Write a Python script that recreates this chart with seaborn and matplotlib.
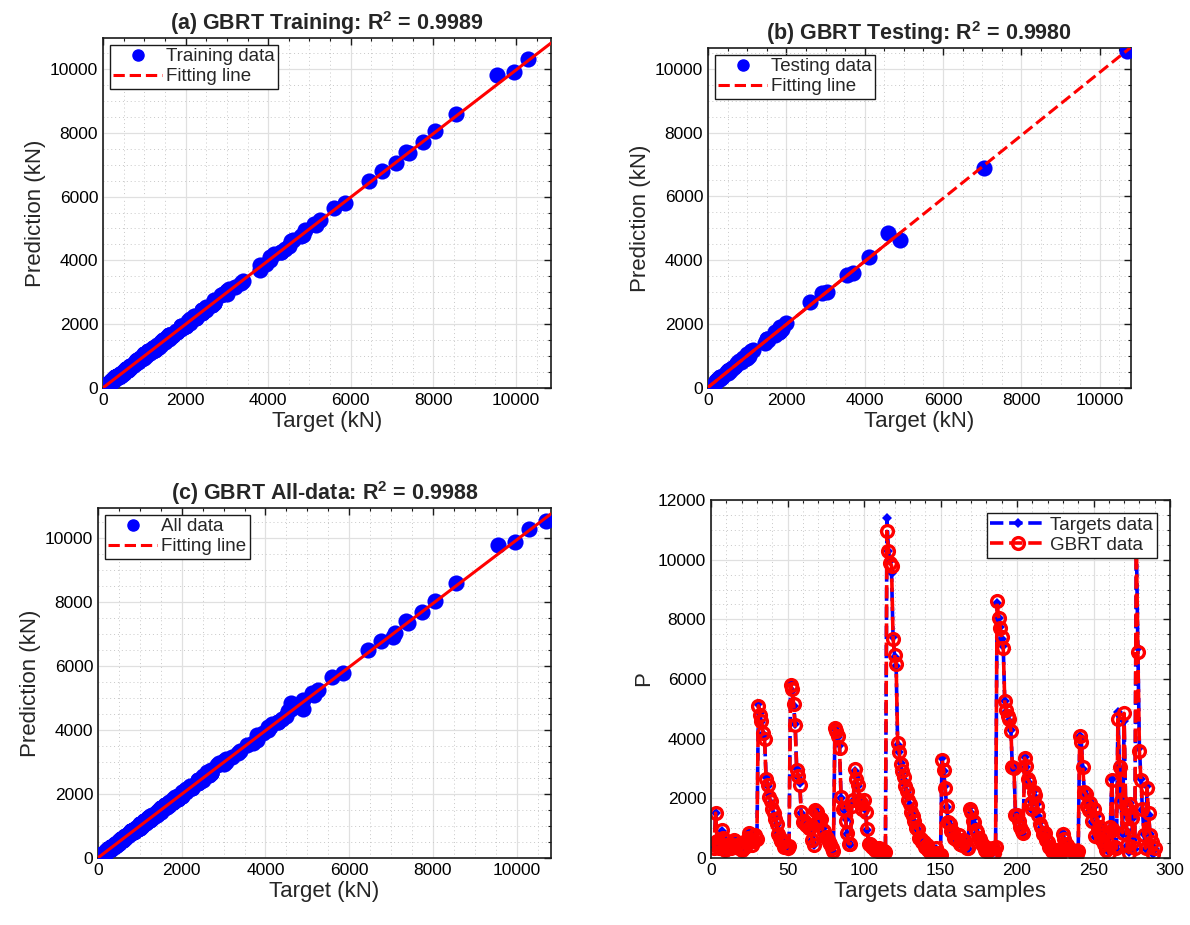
import numpy as np
import matplotlib
matplotlib.use('Agg')
import matplotlib.pyplot as plt
import seaborn as sns
from matplotlib.lines import Line2D
from matplotlib.ticker import MultipleLocator

# target values (kN) for every sample
targets = [
    450, 380, 1520, 600, 300, 450, 900, 700, 250, 400,
    350, 500, 300, 450, 650, 550, 400, 300, 350, 250,
    300, 400, 550, 700, 880, 600, 450, 530, 800, 600,
    5150, 4850, 4550, 4150, 4050, 2700, 2400, 2100, 1850, 1700,
    1450, 1330, 1100, 830, 650, 600, 500, 400, 350, 300,
    380, 5850, 5600, 5100, 4500, 3000, 2700, 2500, 1500, 1250,
    1200, 1150, 1100, 1050, 1000, 600, 450, 1650, 1500, 1300,
    1350, 1250, 1000, 880, 750, 650, 550, 450, 350, 200,
    4400, 4300, 4050, 3800, 2000, 1700, 1600, 1300, 800, 500,
    450, 1800, 1900, 2900, 2700, 2400, 2000, 1800, 1700, 1900,
    1600, 950, 500, 450, 400, 350, 300, 280, 250, 320,
    300, 250, 200, 180, 11400, 10300, 9950, 9550, 7400, 6750,
    6450, 3800, 3550, 3200, 2850, 2600, 2450, 2200, 2000, 1780,
    1500, 1450, 1200, 1050, 950, 700, 600, 550, 500, 400,
    400, 300, 200, 100, 50, 150, 300, 200, 100, 80,
    3350, 2900, 2400, 1700, 1250, 1100, 950, 830, 700, 600,
    650, 750, 500, 400, 650, 550, 350, 300, 1700, 1500,
    1300, 1150, 1000, 830, 700, 600, 500, 400, 300, 200,
    350, 250, 150, 300, 200, 350, 8550, 8050, 7750, 7350,
    7100, 5250, 4900, 4800, 4600, 4300, 3000, 3050, 1500, 1400,
    1300, 1000, 950, 800, 3400, 3050, 2700, 2500, 1900, 1600,
    2250, 2050, 1800, 1400, 1200, 1000, 850, 800, 650, 500,
    400, 300, 250, 200, 300, 250, 150, 100, 200, 830,
    600, 500, 400, 350, 250, 300, 200, 150, 100, 250,
    4100, 3950, 3000, 2250, 2100, 1800, 1550, 1900, 1200, 1700,
    700, 1400, 900, 1100, 600, 800, 450, 300, 500, 200,
    1000, 2650, 900, 400, 300, 4900, 3000, 1950, 800, 4600,
    1800, 400, 200, 1850, 1300, 600, 300, 10700, 7050, 3700,
    2650, 1600, 800, 300, 2400, 1450, 800, 500, 150, 300,
]

# GBRT predictions (kN) for the same samples
predictions = [
    480, 350, 1500, 560, 330, 420, 930, 680, 280, 380,
    380, 470, 330, 430, 620, 580, 420, 320, 330, 280,
    320, 380, 580, 680, 850, 640, 430, 560, 780, 630,
    5100, 4800, 4600, 4200, 4000, 2650, 2450, 2050, 1900, 1650,
    1500, 1300, 1150, 800, 680, 570, 520, 380, 370, 320,
    400, 5800, 5650, 5150, 4450, 2950, 2750, 2450, 1550, 1200,
    1250, 1100, 1150, 1000, 1050, 620, 430, 1600, 1550, 1250,
    1300, 1300, 950, 900, 720, 680, 520, 480, 330, 230,
    4350, 4250, 4100, 3700, 2050, 1650, 1650, 1250, 850, 480,
    480, 1750, 1950, 2980, 2650, 2450, 1950, 1850, 1650, 1950,
    1550, 980, 470, 480, 380, 370, 280, 300, 230, 340,
    280, 270, 220, 200, 10950, 10300, 9900, 9800, 7350, 6800,
    6500, 3850, 3540, 3150, 2900, 2700, 2400, 2250, 1950, 1800,
    1550, 1400, 1250, 1000, 980, 680, 630, 520, 530, 380,
    420, 280, 230, 120, 80, 130, 320, 180, 130, 100,
    3300, 2950, 2350, 1750, 1200, 1150, 900, 870, 680, 630,
    620, 780, 480, 420, 620, 580, 330, 320, 1650, 1550,
    1250, 1200, 950, 870, 680, 630, 480, 420, 280, 230,
    330, 270, 130, 320, 180, 380, 8600, 8050, 7700, 7400,
    7050, 5250, 4950, 4750, 4650, 4250, 3050, 3010, 1450, 1450,
    1250, 1050, 900, 850, 3350, 3100, 2650, 2550, 1850, 1650,
    2200, 2100, 1750, 1450, 1150, 1050, 800, 850, 620, 530,
    380, 320, 230, 220, 280, 270, 130, 120, 230, 800,
    630, 470, 430, 330, 270, 280, 220, 130, 120, 230,
    4100, 3900, 3050, 2200, 2150, 1750, 1600, 1850, 1250, 1650,
    730, 1350, 950, 1050, 630, 770, 480, 280, 530, 180,
    1050, 2600, 950, 380, 330, 4650, 3050, 1900, 850, 4850,
    1750, 430, 180, 1800, 1350, 570, 330, 10550, 6900, 3600,
    2600, 1650, 770, 330, 2350, 1500, 770, 530, 130, 330,
]

# samples held out for testing
test_idx = [
    2, 7, 12, 18, 23, 27, 38, 42, 46, 58, 63, 68, 72, 77, 84, 88,
    93, 97, 101, 106, 111, 122, 125, 131, 137, 142, 147, 153, 156,
    161, 166, 171, 176, 182, 197, 201, 208, 212, 218, 223, 229, 234,
    240, 245, 249, 254, 258, 262, 265, 269, 273, 277, 278, 279, 283, 287,
]

titles = [
    r'(a) GBRT Training: $\mathbf{R^2}$ = 0.9989',
    r'(b) GBRT Testing: $\mathbf{R^2}$ = 0.9980',
    r'(c) GBRT All-data: $\mathbf{R^2}$ = 0.9988',
]
data_labels = ['Training data', 'Testing data', 'All data']

target = np.array(targets, dtype=float)
pred = np.array(predictions, dtype=float)
sample = np.arange(1, len(target) + 1)
is_test = np.zeros(len(target), dtype=bool)
is_test[test_idx] = True

sns.set_theme(style='white')
plt.rcParams['font.family'] = ['Liberation Sans', 'DejaVu Sans']
plt.rcParams['mathtext.fontset'] = 'custom'
plt.rcParams['mathtext.rm'] = 'Liberation Sans'
plt.rcParams['mathtext.bf'] = 'Liberation Sans:bold'

INK = '#1a1a1a'
TICK_FS = 12.5
LABEL_FS = 16
TITLE_FS = 15.5
LEG_FS = 13.5


def matlab_style(ax, xmax, ymax, xmaj, xmin, ymaj, ymin):
    ax.set_xlim(0, xmax)
    ax.set_ylim(0, ymax)
    ax.xaxis.set_major_locator(MultipleLocator(xmaj))
    ax.xaxis.set_minor_locator(MultipleLocator(xmin))
    ax.yaxis.set_major_locator(MultipleLocator(ymaj))
    ax.yaxis.set_minor_locator(MultipleLocator(ymin))
    ax.grid(which='major', color='#e0e0e0', lw=0.9)
    ax.grid(which='minor', color='#c8c8c8', lw=0.7, ls=(0, (1, 3)))
    ax.set_axisbelow(True)
    ax.tick_params(which='both', direction='in', top=True, right=True,
                   labelsize=TICK_FS, colors=INK, labelcolor='black')
    ax.tick_params(which='major', length=5, width=1)
    ax.tick_params(which='minor', length=2.5, width=0.8)
    for s in ax.spines.values():
        s.set_color(INK)
        s.set_linewidth(1.2)


fig = plt.figure(figsize=(11.9, 9.25), dpi=100)
W, H = 1190, 925


def box(l, t, r, b):
    return [l / W, 1 - b / H, (r - l) / W, (b - t) / H]


ax_a = fig.add_axes(box(103, 38, 551, 388))
ax_b = fig.add_axes(box(708, 48, 1131, 388))
ax_c = fig.add_axes(box(98, 508, 551, 858))
ax_d = fig.add_axes(box(711, 500, 1170, 858))

subsets = [~is_test, is_test, np.ones(len(target), dtype=bool)]
limits = [(10850, 10970), (10800, 10650), (10820, 10950)]

for k, (ax, mask, title, lab, (xmax, ymax)) in enumerate(
        zip([ax_a, ax_b, ax_c], subsets, titles, data_labels, limits)):
    x = target[mask]
    y = pred[mask]
    slope, icpt = np.polyfit(x, y, 1)
    sns.scatterplot(x=x, y=y, ax=ax, color='blue', s=135, linewidth=0,
                    label=lab, zorder=3, legend=False)
    fx = np.array([0.0, xmax])
    if k == 1:
        # sparse test set: dashes show where few points overlap
        sns.lineplot(x=fx, y=slope * fx + icpt, ax=ax, color='red',
                     linestyle='--', linewidth=2.2, zorder=4)
        dense = np.array([0.0, np.sort(x)[-3]])
        sns.lineplot(x=dense, y=slope * dense + icpt, ax=ax, color='red',
                     linewidth=2.2, zorder=4)
    else:
        sns.lineplot(x=fx, y=slope * fx + icpt, ax=ax, color='red',
                     linewidth=2.2, zorder=4)
    matlab_style(ax, xmax, ymax, 2000, 500, 2000, 500)
    ax.set_title(title, fontsize=TITLE_FS, fontweight='bold', pad=6)
    ax.set_xlabel('Target (kN)', fontsize=LABEL_FS, labelpad=2)
    ax.set_ylabel('Prediction (kN)', fontsize=LABEL_FS, labelpad=3)
    handles = [
        Line2D([], [], ls='none', marker='o', color='blue', markersize=8),
        Line2D([], [], ls='--', color='red', lw=2.2),
    ]
    leg = ax.legend(handles, [lab, 'Fitting line'], loc='upper left',
                    frameon=True, fancybox=False, framealpha=1,
                    edgecolor=INK, fontsize=LEG_FS, borderpad=0.2,
                    labelspacing=0.15, handlelength=2.6, handletextpad=0.2,
                    borderaxespad=0.35)
    leg.get_frame().set_linewidth(1.0)

sns.lineplot(x=sample, y=target, ax=ax_d, estimator=None, sort=False,
             color='blue', linestyle='--', linewidth=2.6,
             marker='D', markersize=5.5, markeredgecolor='blue',
             markeredgewidth=0, label='Targets data')
sns.lineplot(x=sample, y=pred, ax=ax_d, estimator=None, sort=False,
             color='red', linestyle='--', linewidth=2.6,
             marker='o', markersize=8.5, markerfacecolor='none',
             markeredgecolor='red', markeredgewidth=2.4, label='GBRT data')
matlab_style(ax_d, 300, 12000, 50, 10, 2000, 500)
ax_d.set_xlabel('Targets data samples', fontsize=LABEL_FS, labelpad=2)
ax_d.set_ylabel('P', fontsize=LABEL_FS, labelpad=3)
leg = ax_d.legend(loc='upper right', frameon=True, fancybox=False,
                  framealpha=1, edgecolor=INK, fontsize=LEG_FS,
                  borderpad=0.2, labelspacing=0.15, handlelength=3.0,
                  handletextpad=0.2, borderaxespad=0.7)
leg.get_frame().set_linewidth(1.0)

fig.savefig('out.png', dpi=100)
